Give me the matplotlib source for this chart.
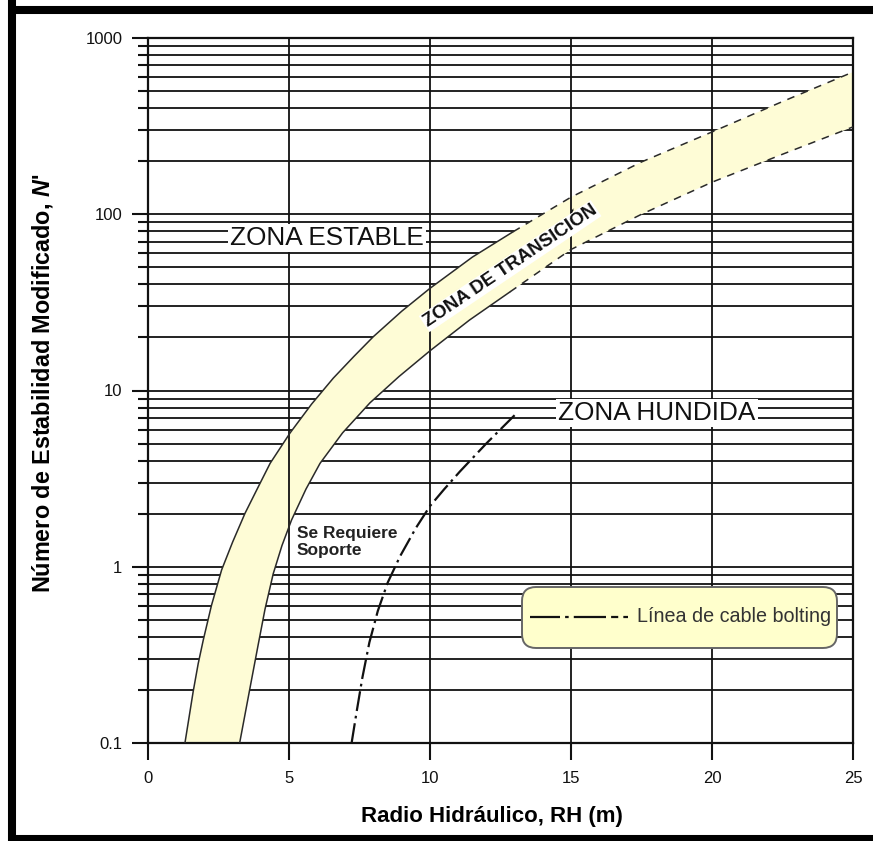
import matplotlib
matplotlib.use('Agg')
import matplotlib.pyplot as plt
import numpy as np
from matplotlib.patches import FancyBboxPatch
from matplotlib.lines import Line2D
from matplotlib.ticker import LogLocator, NullFormatter, FixedLocator
from matplotlib import font_manager

plt.rcParams['font.family'] = ['Liberation Sans', 'DejaVu Sans']
plt.rcParams['mathtext.fontset'] = 'custom'
plt.rcParams['mathtext.it'] = 'Liberation Sans:italic:bold'
plt.rcParams['mathtext.rm'] = 'Liberation Sans:bold'

# ---------------- data ----------------
upper_x = [1.31, 1.45, 1.60, 1.78, 1.96, 2.25, 2.61, 3.0, 3.44, 3.9, 4.33, 5.04, 5.8, 6.57,
           7.3, 7.99, 9.0, 10.0, 11.5, 12.95, 15.0, 17.5, 20.0, 22.5, 25.0]
upper_y = [0.1, 0.138, 0.195, 0.282, 0.384, 0.603, 0.959, 1.38, 2.01, 2.82, 3.86, 5.75, 8.37, 11.75,
           15.6, 20.2, 28.2, 38.0, 57.1, 79.6, 125.0, 198.0, 293.0, 436.0, 641.0]

lower_x = [3.25, 3.45, 3.65, 3.91, 4.15, 4.44, 4.75, 5.09, 5.6, 6.10, 6.9, 7.87, 8.9, 10.0,
           11.4, 12.84, 15.0, 17.5, 20.0, 22.5, 25.0]
lower_y = [0.1, 0.148, 0.219, 0.363, 0.575, 0.912, 1.318, 1.841, 2.754, 3.86, 5.75, 8.51, 12.0, 16.8,
           25.1, 36.3, 63.1, 100.0, 152.0, 219.0, 313.0]

cable_x = [7.22, 7.4, 7.6, 7.85, 8.15, 8.5, 8.94, 9.5, 10.0, 10.5, 11.06, 12.0, 13.0]
cable_y = [0.1, 0.151, 0.234, 0.372, 0.562, 0.813, 1.148, 1.66, 2.21, 2.75, 3.47, 5.01, 7.24]

dash_from = 12.9   # band boundaries are drawn dashed beyond this RH

x_ticks = [0, 5, 10, 15, 20, 25]
y_major = [0.1, 1, 10, 100, 1000]
y_tick_labels = ['0.1', '1', '10', '100', '1000']

xlabel = 'Radio Hidráulico, RH (m)'
ylabel = "Número de Estabilidad Modificado, $\\mathit{N}$'"
txt_estable = 'ZONA ESTABLE'
txt_hundida = 'ZONA HUNDIDA'
txt_trans = 'ZONA DE TRANSICIÓN'
txt_soporte = 'Se Requiere\nSoporte'
legend_label = 'Línea de cable bolting'

# ---------------- figure ----------------
W, H = 873, 841
fig = plt.figure(figsize=(W / 100, H / 100), dpi=100)
ax = fig.add_axes([148 / W, 98 / H, 705 / W, 705 / H])
ax.set_xlim(0, 25)
ax.set_yscale('log')
ax.set_ylim(0.1, 1000)

ax.set_xticks(x_ticks)
ax.set_xticklabels([str(t) for t in x_ticks])
ax.yaxis.set_major_locator(FixedLocator(y_major))
ax.set_yticklabels(y_tick_labels)
ax.yaxis.set_minor_locator(LogLocator(base=10, subs=np.arange(2, 10)))
ax.yaxis.set_minor_formatter(NullFormatter())
ax.xaxis.set_minor_locator(FixedLocator([]))

ax.tick_params(axis='y', which='major', direction='out', length=11.5, width=1.5,
               pad=7, labelsize=12, colors='#111111')
ax.tick_params(axis='y', which='minor', direction='out', length=7, width=1.5, color='#111111')
ax.tick_params(axis='x', which='major', direction='out', length=12, width=1.5,
               pad=8, labelsize=12, colors='#111111')
for s in ax.spines.values():
    s.set_linewidth(1.6)
    s.set_color('#111111')

# horizontal gridlines (below the band)
ax.set_axisbelow(True)
ax.yaxis.grid(True, which='both', color='#111111', lw=1.3)
# vertical gridlines (above the band)
for xv in x_ticks[1:-1]:
    ax.axvline(xv, color='#111111', lw=1.3, zorder=1.6)

# transition band fill
poly_x = list(upper_x) + list(lower_x[::-1])
poly_y = list(upper_y) + list(lower_y[::-1])
ax.fill(poly_x, poly_y, color='#FEFCD6', lw=0, zorder=1.2)

ux, uy = np.array(upper_x), np.array(upper_y)
lx, ly = np.array(lower_x), np.array(lower_y)
band_col = '#2a2a2a'
for bx, by in ((ux, uy), (lx, ly)):
    m1 = bx <= dash_from + 0.1
    m2 = bx >= dash_from - 0.1
    ax.plot(bx[m1], by[m1], color=band_col, lw=1.1, zorder=3)
    ax.plot(bx[m2], by[m2], color=band_col, lw=1.1, ls=(0, (5, 4.5)), zorder=3)

ax.plot(cable_x, cable_y, color='#111111', lw=1.6, ls=(0, (9, 2.2, 1.2, 2.2)), zorder=3)

# zone labels
ax.text(6.35, 73.3, txt_estable, fontsize=18.8, ha='center', va='center', color='#111111',
        bbox=dict(facecolor='white', edgecolor='none', pad=1.5), zorder=4)
ax.text(18.05, 7.45, txt_hundida, fontsize=18.8, ha='center', va='center', color='#111111',
        bbox=dict(facecolor='white', edgecolor='none', pad=1.5), zorder=4)
ax.text(12.84, 50.8, txt_trans, fontsize=13.5, fontweight='bold', ha='center', va='center',
        rotation=34, rotation_mode='anchor', color='#111111',
        bbox=dict(facecolor='white', edgecolor='none', pad=0.8), zorder=4)
ax.text(5.28, 1.70, txt_soporte, fontsize=12.5, fontweight='bold', ha='left', va='top',
        linespacing=1.15, color='#222222', zorder=4)

# axis labels
ax.set_xlabel(xlabel, fontsize=16, fontweight='bold')
ax.xaxis.set_label_coords((492 - 148) / 705, (743 - 806) / 705)
ax.set_ylabel(ylabel, fontsize=16.8, fontweight='bold', va='center')
ax.yaxis.set_label_coords((43 - 148) / 705, (743 - 383) / 705)

# legend box (cable bolting line)
box = FancyBboxPatch(((522 - 148) / 705, (743 - 648) / 705), (837 - 522) / 705, (648 - 587) / 705,
                     boxstyle='round,pad=0,rounding_size=0.02', transform=ax.transAxes,
                     facecolor='#FFFFCC', edgecolor='#666666', lw=1.4, zorder=5, clip_on=False)
ax.add_patch(box)
yl = (743 - 617) / 705
leg_line = Line2D([(530 - 148) / 705, (628 - 148) / 705], [yl, yl], transform=ax.transAxes,
                  color='#111111', lw=1.6,
                  ls=(0, (13.5, 2.3, 1.6, 2.3, 14.5, 2.3, 3.2, 2.3, 3.2, 2.3)), zorder=6)
ax.add_line(leg_line)

names = {f.name for f in font_manager.fontManager.ttflist}
leg_family = ['Liberation Sans Narrow'] if 'Liberation Sans Narrow' in names else ['Liberation Sans']
lt = ax.text((637 - 148) / 705, yl, legend_label, transform=ax.transAxes, fontsize=17.5,
             family=leg_family + ['DejaVu Sans'], ha='left', va='center', color='#333333', zorder=6)
fig.canvas.draw()
w = lt.get_window_extent(renderer=fig.canvas.get_renderer()).width
lt.set_fontsize(17.5 * 193 / w)

# outer thick frame (left, top, bottom edges only; right edge lies outside the image)
fw = 5.8
for xs, ys in (([12, 12], [0, H]), ([8, W], [H - 10, H - 10]), ([8, W], [2, 2])):
    fig.add_artist(Line2D([v / W for v in xs], [v / H for v in ys], transform=fig.transFigure,
                          color='black', lw=fw, solid_capstyle='butt'))

fig.savefig('out.png', dpi=100)
